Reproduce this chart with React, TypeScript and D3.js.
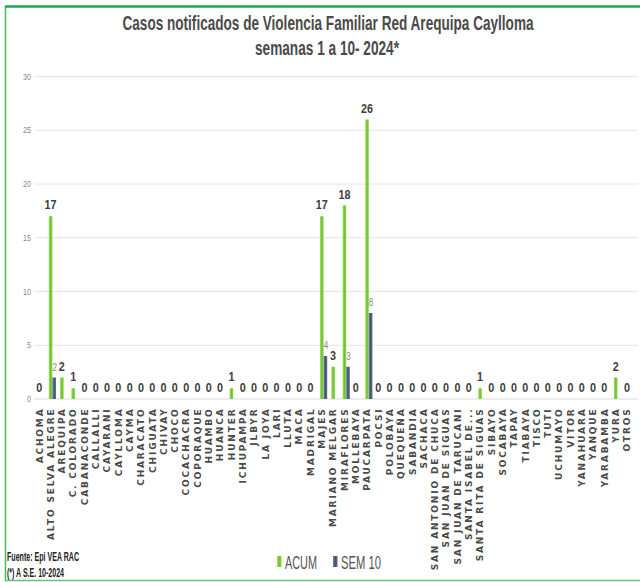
import React from "react";
import * as d3 from "d3";

const categories = [
  "ACHOMA", "ALTO SELVA ALEGRE", "AREQUIPA", "C. COLORADO", "CABANACONDE", "CALLALLI",
  "CAYARANI", "CAYLLOMA", "CAYMA", "CHARACATO", "CHIGUATA", "CHIVAY", "CHOCO",
  "COCACHACRA", "COPORAQUE", "HUAMBO", "HUANCA", "HUNTER", "ICHUPAMPA", "JLBYR",
  "LA JOYA", "LARI", "LLUTA", "MACA", "MADRIGAL", "MAJES", "MARIANO MELGAR",
  "MIRAFLORES", "MOLLEBAYA", "PAUCARPATA", "POCSI", "POLOBAYA", "QUEQUEÑA",
  "SABANDIA", "SACHACA", "SAN ANTONIO DE CHUCA", "SAN JUAN DE SIGUAS",
  "SAN JUAN DE TARUCANI", "SANTA ISABEL DE...", "SANTA RITA DE SIGUAS", "SIBAYO",
  "SOCABAYA", "TAPAY", "TIABAYA", "TISCO", "TUTI", "UCHUMAYO", "VITOR",
  "YANAHUARA", "YANQUE", "YARABAMBA", "YURA", "OTROS",
];

const acum = [
  0, 17, 2, 1, 0, 0, 0, 0, 0, 0, 0, 0, 0, 0, 0, 0, 0, 1, 0, 0, 0, 0, 0, 0, 0, 17, 3,
  18, 0, 26, 0, 0, 0, 0, 0, 0, 0, 0, 0, 1, 0, 0, 0, 0, 0, 0, 0, 0, 0, 0, 0, 2, 0,
];

const sem10 = [
  0, 2, 0, 0, 0, 0, 0, 0, 0, 0, 0, 0, 0, 0, 0, 0, 0, 0, 0, 0, 0, 0, 0, 0, 0, 4, 0,
  3, 0, 8, 0, 0, 0, 0, 0, 0, 0, 0, 0, 0, 0, 0, 0, 0, 0, 0, 0, 0, 0, 0, 0, 0, 0,
];

const yTicks = [0, 5, 10, 15, 20, 25, 30];

const titleLines = ["Casos notificados  de Violencia Familiar Red Arequipa Caylloma", "semanas 1 a 10- 2024*"];
const notes = ["Fuente: Epi VEA RAC", "(*) A S.E. 10-2024"];
const seriesNames = ["ACUM", "SEM 10"];

const W = 640;
const H = 582;
const NARROW = "'Liberation Sans Narrow', 'Arial Narrow', 'Liberation Sans', Arial, sans-serif";

export default function App() {
  const x = d3.scaleBand<string>().domain(categories).range([35.4, 634.4]).padding(0);
  const y = d3.scaleLinear().domain([0, 30]).range([399, 76.5]);
  const bw = 3.6;

  return (
    <svg
      width={W}
      height={H}
      style={{ position: "absolute", left: 0, top: 0, background: "#fff" }}
    >
      <defs>
        <linearGradient id="gGreen" x1="0" x2="1" y1="0" y2="0">
          <stop offset="0" stopColor="#A6E26A" />
          <stop offset="0.5" stopColor="#6EC22E" />
          <stop offset="1" stopColor="#8ED550" />
        </linearGradient>
        <linearGradient id="gDark" x1="0" x2="1" y1="0" y2="0">
          <stop offset="0" stopColor="#6E80A0" />
          <stop offset="0.5" stopColor="#44546F" />
          <stop offset="1" stopColor="#5C6D8C" />
        </linearGradient>
      </defs>
      <rect x={0} y={0} width={W} height={H} fill="#fff" />
      {/* border */}
      <line x1={5.5} x2={5.5} y1={6} y2={581} stroke="#3DBE5E" strokeWidth={1.5} />
      <line x1={5} x2={W} y1={6.5} y2={6.5} stroke="#19AA48" strokeWidth={2.5} />
      <line x1={5} x2={W} y1={580.5} y2={580.5} stroke="#5CC97C" strokeWidth={1.5} />

      {/* title */}
      <text x={328} y={30} textAnchor="middle" fontFamily={NARROW} fontWeight="bold" fontSize={20.5} fill="#4a4a4a"
        textLength={411} lengthAdjust="spacingAndGlyphs">{titleLines[0]}</text>
      <text x={327} y={55} textAnchor="middle" fontFamily={NARROW} fontWeight="bold" fontSize={20.5} fill="#4a4a4a"
        textLength={144} lengthAdjust="spacingAndGlyphs">{titleLines[1]}</text>

      {/* gridlines */}
      {yTicks.map((t) => (
        <g key={t}>
          <line x1={35} x2={638} y1={y(t)} y2={y(t)} stroke={t === 0 ? "#d9d9d9" : "#e4e4e4"} strokeWidth={1} />
          <text x={31} y={y(t) + 3} textAnchor="end" fontFamily={NARROW} fontSize={9} fill="#8a8a8a"
            textLength={t < 10 ? 4 : 8} lengthAdjust="spacingAndGlyphs">{t}</text>
        </g>
      ))}

      {/* bars */}
      {categories.map((c, i) => {
        const cx = (x(c) as number) + x.bandwidth() / 2;
        return (
          <g key={c}>
            {acum[i] > 0 && (
              <rect x={cx - bw} y={y(acum[i])} width={bw} height={y(0) - y(acum[i])} fill="url(#gGreen)" />
            )}
            {sem10[i] > 0 && (
              <rect x={cx} y={y(sem10[i])} width={bw} height={y(0) - y(sem10[i])} fill="url(#gDark)" />
            )}
            <text x={cx - bw / 2} y={y(acum[i]) - 7} textAnchor="middle" fontFamily={NARROW}
              fontWeight="bold" fontSize={12} fill="#404040"
              textLength={acum[i] >= 10 ? 12 : 6} lengthAdjust="spacingAndGlyphs">{acum[i]}</text>
            {sem10[i] > 0 && (
              <text x={cx + bw / 2 + 0.5} y={y(sem10[i]) - 7} textAnchor="middle" fontFamily={NARROW}
                fontSize={10} fill="#8a8a8a" textLength={4.5} lengthAdjust="spacingAndGlyphs">{sem10[i]}</text>
            )}
            <text
              transform={`translate(${cx + 1.5},${407.5}) rotate(-90)`}
              textAnchor="end"
              fontFamily="'DejaVu Sans', Verdana, sans-serif"
              fontWeight="bold"
              fontSize={9}
              letterSpacing={1.85}
              fill="#4a4a4a"
            >
              {c}
            </text>
          </g>
        );
      })}

      {/* legend */}
      <rect x={277} y={556} width={4.5} height={11} fill="url(#gGreen)" />
      <text x={285} y={569} fontFamily={NARROW} fontSize={19} fill="#555" textLength={32}
        lengthAdjust="spacingAndGlyphs">{seriesNames[0]}</text>
      <rect x={333} y={556} width={4.5} height={11} fill="url(#gDark)" />
      <text x={341} y={569} fontFamily={NARROW} fontSize={19} fill="#555" textLength={40}
        lengthAdjust="spacingAndGlyphs">{seriesNames[1]}</text>

      {/* notes */}
      <text x={7} y={561} fontFamily={NARROW} fontWeight="bold" fontSize={12.5} fill="#222"
        textLength={72} lengthAdjust="spacingAndGlyphs">{notes[0]}</text>
      <text x={7} y={577} fontFamily={NARROW} fontWeight="bold" fontSize={12.5} fill="#222"
        textLength={57} lengthAdjust="spacingAndGlyphs">{notes[1]}</text>
    </svg>
  );
}
